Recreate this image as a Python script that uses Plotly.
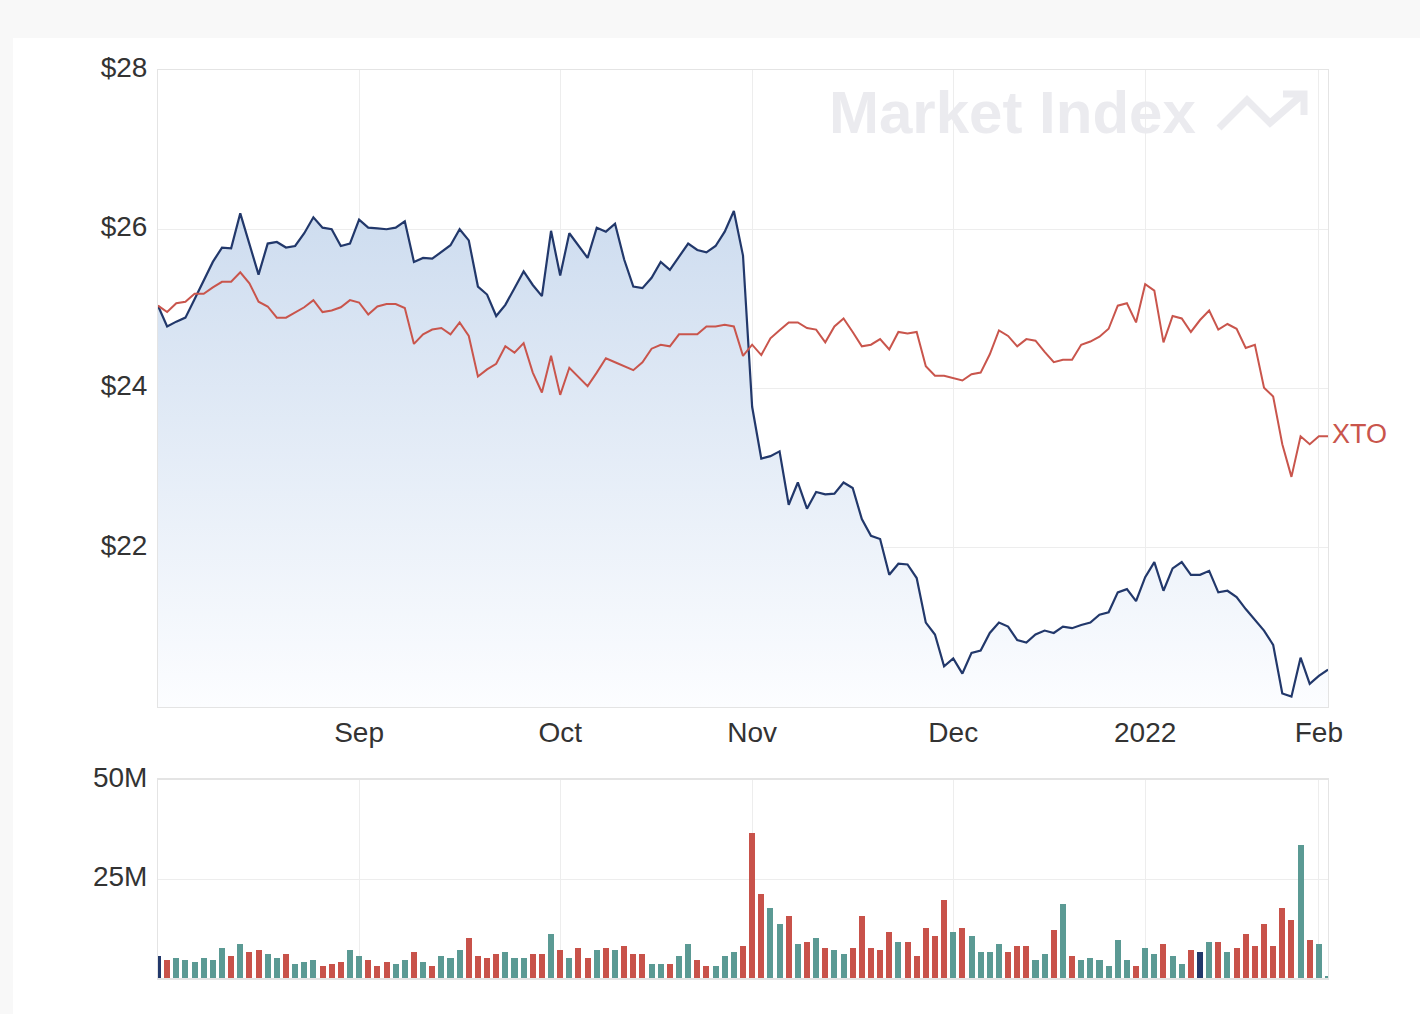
import pandas as pd
import plotly.graph_objects as go

# ---------------- data ----------------
start_date = "2021-08-02"
end_date = "2022-02-02"
asx_holidays = ["2021-12-27", "2021-12-28", "2022-01-03", "2022-01-26"]

month_tick_dates = ["2021-09-01", "2021-10-01", "2021-11-01", "2021-12-01", "2022-01-04", "2022-02-01"]
month_tick_labels = ["Sep", "Oct", "Nov", "Dec", "2022", "Feb"]

price_ticks = [22, 24, 26, 28]
volume_ticks = [25e6, 50e6]
volume_tick_labels = ["25M", "50M"]

price = [
    25.04, 24.78, 24.84, 24.89, 25.12, 25.35, 25.59, 25.77, 25.76, 26.20,
    25.82, 25.43, 25.82, 25.84, 25.77, 25.79, 25.95, 26.15, 26.02, 26.00,
    25.79, 25.82, 26.12, 26.02, 26.01, 26.00, 26.02, 26.10, 25.59, 25.64,
    25.63, 25.71, 25.80, 26.00, 25.86, 25.28, 25.18, 24.91, 25.05, 25.26,
    25.47, 25.30, 25.16, 25.98, 25.42, 25.95, 25.80, 25.64, 26.02, 25.97,
    26.07, 25.62, 25.28, 25.26, 25.39, 25.59, 25.49, 25.65, 25.82, 25.74,
    25.71, 25.79, 25.97, 26.23, 25.67, 23.77, 23.12, 23.15, 23.21, 22.54,
    22.82, 22.49, 22.70, 22.67, 22.68, 22.82, 22.75, 22.36, 22.15, 22.11,
    21.66, 21.80, 21.79, 21.62, 21.06, 20.91, 20.51, 20.61, 20.42, 20.68,
    20.71, 20.93, 21.06, 21.01, 20.84, 20.81, 20.91, 20.96, 20.93, 21.01,
    20.99, 21.03, 21.06, 21.16, 21.19, 21.44, 21.48, 21.33, 21.63, 21.82,
    21.46, 21.74, 21.82, 21.66, 21.66, 21.71, 21.44, 21.46, 21.38, 21.23,
    21.09, 20.96, 20.78, 20.17, 20.13, 20.62, 20.29, 20.39, 20.47,
]

xto = [
    25.04, 24.96, 25.07, 25.09, 25.19, 25.19, 25.27, 25.34, 25.34, 25.46,
    25.32, 25.09, 25.03, 24.89, 24.89, 24.96, 25.02, 25.11, 24.96, 24.98,
    25.02, 25.11, 25.08, 24.93, 25.03, 25.06, 25.06, 25.01, 24.56, 24.68,
    24.74, 24.76, 24.68, 24.83, 24.66, 24.15, 24.24, 24.31, 24.53, 24.45,
    24.57, 24.20, 23.95, 24.41, 23.92, 24.26, 24.14, 24.03, 24.20, 24.38,
    24.33, 24.28, 24.23, 24.33, 24.50, 24.55, 24.53, 24.68, 24.68, 24.68,
    24.78, 24.78, 24.80, 24.78, 24.41, 24.55, 24.42, 24.63, 24.73, 24.83,
    24.83, 24.76, 24.74, 24.58, 24.78, 24.88, 24.71, 24.53, 24.55, 24.62,
    24.49, 24.71, 24.69, 24.71, 24.28, 24.16, 24.16, 24.13, 24.10, 24.18,
    24.20, 24.43, 24.73, 24.66, 24.53, 24.62, 24.60, 24.46, 24.33, 24.36,
    24.36, 24.55, 24.59, 24.65, 24.75, 25.04, 25.07, 24.83, 25.31, 25.23,
    24.58, 24.91, 24.88, 24.71, 24.86, 24.98, 24.74, 24.81, 24.75, 24.51,
    24.55, 24.01, 23.90, 23.30, 22.89, 23.40, 23.30, 23.40, 23.40,
]

volume_m = [
    5.5, 4.5, 5.0, 4.5, 4.0, 5.0, 4.5, 7.5, 5.5, 8.6,
    6.5, 7.0, 6.0, 5.0, 6.0, 3.5, 4.0, 4.5, 3.0, 3.5,
    4.0, 7.0, 5.5, 4.5, 3.0, 4.0, 3.5, 4.5, 6.5, 4.0,
    3.0, 5.5, 5.0, 7.0, 10.1, 5.5, 5.0, 6.0, 6.5, 5.0,
    5.0, 6.0, 6.0, 11.1, 7.0, 5.0, 7.5, 5.0, 7.0, 7.5,
    7.0, 8.0, 6.0, 6.0, 3.5, 3.5, 3.5, 5.5, 8.6, 4.5,
    3.0, 3.0, 5.5, 6.5, 8.0, 36.6, 21.3, 17.7, 13.7, 15.7,
    8.6, 9.1, 10.1, 7.5, 7.0, 6.0, 7.5, 15.7, 7.5, 7.0,
    11.6, 9.1, 9.1, 5.5, 12.6, 10.6, 19.8, 11.6, 12.6, 10.6,
    6.5, 6.5, 8.6, 6.5, 8.0, 8.0, 4.5, 6.0, 12.1, 18.7,
    5.5, 4.5, 5.0, 4.5, 3.0, 9.6, 4.5, 3.0, 7.5, 6.0,
    8.6, 5.5, 3.5, 7.0, 6.5, 9.1, 9.1, 6.5, 7.5, 11.1,
    8.0, 13.7, 8.0, 17.7, 14.7, 33.5, 9.6, 8.6, 0.4,
]

# u = up day, d = down day, n = unchanged (one code per trading day)
volume_dir_rows = [
    "nduuuuuudu",
    "dduuduuudd",
    "duuddduudu",
    "duuudddduu",
    "uddududdud",
    "uddduuduud",
    "duuuddduud",
    "ududuudddd",
    "dudddddudu",
    "uuuddduudu",
    "duuuuuuduu",
    "duudnududd",
    "ddddduduu",
]

# ---------------- build ----------------
dates = [d.strftime("%Y-%m-%d") for d in pd.bdate_range(start_date, end_date)
         if d.strftime("%Y-%m-%d") not in asx_holidays]
volume_dir = "".join(volume_dir_rows)
volume = [v * 1e6 for v in volume_m]

NAVY = "#22386b"
RED = "#c9554c"
GREEN = "#5b9a94"
BAR_RED = "#c8524a"
dir_colors = {"u": GREEN, "d": BAR_RED, "n": NAVY}
bar_colors = [dir_colors[c] for c in volume_dir]

FONT = "Liberation Sans, Arial, sans-serif"
W, H = 1420, 1014
ML, MR, MT, MB = 158, 92, 70, 36
PW, PH = W - ML - MR, H - MT - MB


def px(x):
    return (x - ML) / PW


def py(y):
    return (H - MB - y) / PH


fig = go.Figure()

fig.add_trace(go.Scatter(
    x=dates, y=price, mode="lines", name="Price",
    line=dict(color=NAVY, width=2.2),
    fill="tozeroy",
    fillgradient=dict(type="vertical", start=20, stop=26.3,
                      colorscale=[[0, "rgba(252,253,255,1)"], [1, "rgba(205,220,239,1)"]]),
    xaxis="x", yaxis="y", hoverinfo="skip",
))
fig.add_trace(go.Scatter(
    x=dates, y=xto, mode="lines", name="XTO",
    line=dict(color=RED, width=2),
    xaxis="x", yaxis="y", hoverinfo="skip",
))
fig.add_trace(go.Bar(
    x=dates, y=volume, marker=dict(color=bar_colors, line=dict(width=0)),
    width=0.66, xaxis="x2", yaxis="y2", hoverinfo="skip",
))

grid = "#ededed"
axcol = "#e4e4e4"
tickfont = dict(family=FONT, size=28, color="#333333")

fig.update_layout(
    width=W, height=H,
    margin=dict(l=ML, r=MR, t=MT, b=MB),
    paper_bgcolor="#f8f8f8",
    plot_bgcolor="white",
    showlegend=False,
    bargap=0,
    font=dict(family=FONT),
    xaxis=dict(
        type="category", domain=[0, 1], anchor="y", range=[0, len(dates) - 1],
        tickmode="array", tickvals=month_tick_dates, ticktext=month_tick_labels,
        showgrid=True, gridcolor=grid, gridwidth=1,
        showline=True, linecolor=axcol, linewidth=1, mirror=True,
        ticks="", tickfont=tickfont, ticklabelstandoff=0,
    ),
    yaxis=dict(
        domain=[py(707), 1], anchor="x", range=[20, 28],
        tickmode="array", tickvals=price_ticks,
        ticktext=[f"${v}" for v in price_ticks],
        showgrid=True, gridcolor=grid, gridwidth=1, zeroline=False,
        showline=True, linecolor=axcol, linewidth=1, mirror=True,
        ticks="", tickfont=tickfont, ticklabelstandoff=4, ticklabelshift=-3,
    ),
    xaxis2=dict(
        type="category", domain=[0, 1], anchor="y2", matches="x",
        range=[0, len(dates) - 1],
        tickmode="array", tickvals=month_tick_dates, showticklabels=False,
        showgrid=True, gridcolor=grid, gridwidth=1,
        showline=True, linecolor=axcol, linewidth=2, mirror=True, ticks="",
    ),
    yaxis2=dict(
        domain=[0, py(780)], anchor="x2", range=[0, 50e6],
        tickmode="array", tickvals=volume_ticks, ticktext=volume_tick_labels,
        showgrid=True, gridcolor=grid, gridwidth=1, zeroline=False,
        showline=True, linecolor=axcol, linewidth=1, mirror=True,
        ticks="", tickfont=tickfont, ticklabelstandoff=4, ticklabelshift=-3,
    ),
)

# white card on the grey page
fig.add_shape(type="rect", xref="paper", yref="paper", layer="below",
              x0=px(13), x1=px(W + 20), y0=py(H + 20), y1=py(38),
              fillcolor="white", line=dict(width=0))

# watermark
WM = "#ebebef"
fig.add_annotation(xref="paper", yref="paper", x=px(1012), y=py(113),
                   text="<b>Market Index</b>", showarrow=False,
                   font=dict(family=FONT, size=60, color=WM),
                   xanchor="center", yanchor="middle")
logo = [(1219, 128), (1247, 100), (1270, 123), (1302, 95)]
head = [(1283, 94), (1304, 94), (1304, 115)]
path = "M " + " L ".join(f"{px(a)},{py(b)}" for a, b in logo)
path += " M " + " L ".join(f"{px(a)},{py(b)}" for a, b in head)
fig.add_shape(type="path", xref="paper", yref="paper", path=path,
              line=dict(color=WM, width=7), layer="above")

# series label
fig.add_annotation(x=dates[-1], y=xto[-1], xref="x", yref="y",
                   text="XTO", showarrow=False, xanchor="left", yanchor="middle",
                   xshift=2, yshift=2, font=dict(family=FONT, size=27, color=RED))

fig.write_html("out.html")
